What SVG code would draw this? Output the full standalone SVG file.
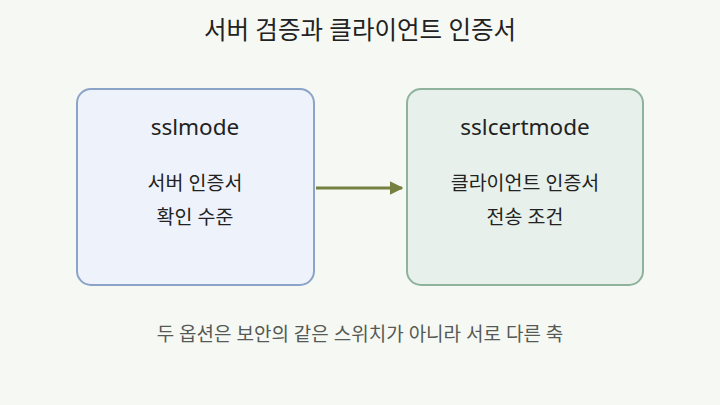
<svg xmlns="http://www.w3.org/2000/svg" width="720" height="405" viewBox="0 0 720 405">
<style>
text{font-family:"Noto Sans","Noto Sans CJK KR",sans-serif;text-anchor:middle;fill:#222}
.title{font-size:24.5px}
.h{font-size:22.5px}
.b{font-size:19.5px}
.note{font-size:19px;fill:#555a55}
</style>
<defs>
<marker id="ah" viewBox="0 0 10 10" refX="9" refY="5" markerWidth="4.5" markerHeight="4.5" orient="auto" markerUnits="strokeWidth">
<path d="M0,0 L10,5 L0,10 z" fill="#76803f"/>
</marker>
</defs>
<rect width="720" height="405" fill="#f6f8f4"/>
<text class="title" x="360" y="39">서버 검증과 클라이언트 인증서</text>
<g id="sslmode">
<rect x="77" y="89" width="237" height="196" rx="14" fill="#eef2fb" stroke="#8ca3c8" stroke-width="2"/>
<text class="h" x="195" y="135">sslmode</text>
<text class="b" x="195" y="190">서버 인증서</text>
<text class="b" x="195" y="224">확인 수준</text>
</g>
<g id="sslcertmode">
<rect x="407" y="89" width="236" height="196" rx="14" fill="#e7f0ea" stroke="#8fb29c" stroke-width="2"/>
<text class="h" x="525" y="135">sslcertmode</text>
<text class="b" x="525" y="190">클라이언트 인증서</text>
<text class="b" x="525" y="224">전송 조건</text>
</g>
<g id="connectors">
<line x1="316" y1="188" x2="402" y2="188" stroke="#76803f" stroke-width="3" marker-end="url(#ah)"/>
</g>
<text class="note" x="360" y="341">두 옵션은 보안의 같은 스위치가 아니라 서로 다른 축</text>
</svg>
